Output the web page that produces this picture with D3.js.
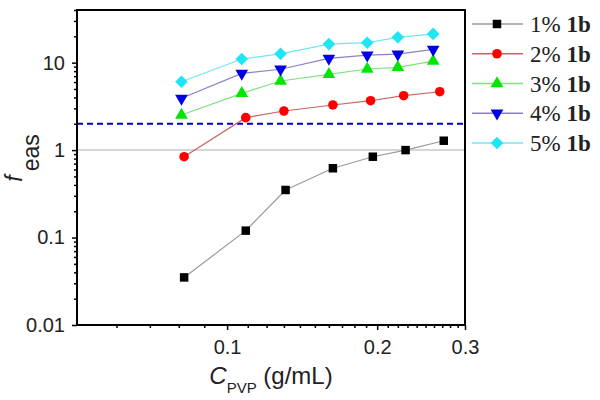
<!DOCTYPE html>
<html>
<head>
<meta charset="utf-8">
<script src="https://cdn.jsdelivr.net/npm/d3@7"></script>
<style>
body { margin: 0; background: #fff; }
svg { display: block; }
.tick text { font-family: "Liberation Sans", Arial, sans-serif; font-size: 20px; fill: #222; }
</style>
</head>
<body>
<div id="chart"></div>
<script>
// series names shown in the legend
const seriesNames = ["1%", "2%", "3%", "4%", "5%"];

// PVP concentration (g/mL) of each point
const xBlack = [0.082, 0.109, 0.131, 0.163, 0.196, 0.228, 0.272];
const xRed   = [0.082, 0.109, 0.130, 0.163, 0.194, 0.226, 0.267];
const xTop   = [0.081, 0.107, 0.128, 0.160, 0.191, 0.220, 0.259];

// f_eas values
const yBlack = [0.035, 0.12, 0.35, 0.62, 0.84, 1.0, 1.28];
const yRed   = [0.84, 2.35, 2.8, 3.28, 3.67, 4.19, 4.65];
const yGreen = [2.52, 4.46, 6.17, 7.36, 8.46, 8.85, 10.4];
const yBlue  = [3.91, 7.55, 8.4, 11.2, 12.2, 12.5, 14.2];
const yCyan  = [6.05, 11.0, 12.6, 16.3, 16.9, 19.5, 21.3];

// tick labels
const xTicks = [0.1, 0.2, 0.3];
const yTicks = [0.01, 0.1, 1, 10];

// reference lines
const refSolid = 1;
const refDashed = 2;

const series = [
  { name: seriesNames[0], x: xBlack, y: yBlack, marker: "#000000", line: "#9a9a9a", shape: "square" },
  { name: seriesNames[1], x: xRed,   y: yRed,   marker: "#ff0000", line: "#c86464", shape: "circle" },
  { name: seriesNames[2], x: xTop,   y: yGreen, marker: "#00e600", line: "#80e080", shape: "up" },
  { name: seriesNames[3], x: xTop,   y: yBlue,  marker: "#0000e6", line: "#8c80c8", shape: "down" },
  { name: seriesNames[4], x: xTop,   y: yCyan,  marker: "#1ee6f5", line: "#70e6f0", shape: "diamond" }
];

const W = 600, H = 400;
const plot = { left: 77, top: 10, right: 465, bottom: 325 };

const svg = d3.select("#chart").append("svg")
  .attr("width", W).attr("height", H);

const x = d3.scaleLog().domain([0.05, 0.3]).range([plot.left, plot.right]);
const y = d3.scaleLog().domain([0.01, 40]).range([plot.bottom, plot.top]);

// minor ticks
const xMinor = d3.range(6, 30).map(d => d / 100).filter(d => !xTicks.some(t => Math.abs(t - d) < 1e-9));
const yMinor = [];
[0.01, 0.1, 1, 10].forEach(dec => {
  for (let k = 2; k <= 9; k++) {
    const v = dec * k;
    if (v <= 40) yMinor.push(v);
  }
});

// reference lines
svg.append("line")
  .attr("x1", plot.left).attr("x2", plot.right)
  .attr("y1", y(refSolid)).attr("y2", y(refSolid))
  .attr("stroke", "#c8c8c8").attr("stroke-width", 1.5);

svg.append("line")
  .attr("x1", plot.left).attr("x2", plot.right)
  .attr("y1", y(refDashed)).attr("y2", y(refDashed))
  .attr("stroke", "#0000cc").attr("stroke-width", 2)
  .attr("stroke-dasharray", "6,4");

// symbol helper
function symbolPath(shape) {
  if (shape === "square") return d3.symbol(d3.symbolSquare, 72)();
  if (shape === "circle") return d3.symbol(d3.symbolCircle, 72)();
  if (shape === "up" || shape === "down") return d3.symbol(d3.symbolTriangle, 70)();
  return d3.symbol(d3.symbolSquare, 80)();
}
function symbolRotate(shape) {
  if (shape === "down") return " rotate(180)";
  if (shape === "diamond") return " rotate(45)";
  return "";
}

// series lines and markers
const line = d3.line().x(d => x(d[0])).y(d => y(d[1]));

series.forEach(s => {
  const pts = s.x.map((v, i) => [v, s.y[i]]);
  svg.append("path")
    .attr("d", line(pts))
    .attr("fill", "none")
    .attr("stroke", s.line)
    .attr("stroke-width", 1.2);

  svg.append("g").selectAll("path")
    .data(pts)
    .enter().append("path")
    .attr("d", symbolPath(s.shape))
    .attr("transform", d => `translate(${x(d[0])},${y(d[1])})` + symbolRotate(s.shape))
    .attr("fill", s.marker);
});

// axes
svg.append("g")
  .attr("transform", `translate(0,${plot.bottom})`)
  .call(d3.axisBottom(x).tickValues(xMinor).tickSize(3).tickFormat(""))
  .call(g => g.select(".domain").remove())
  .call(g => g.selectAll("line").attr("stroke", "#000").attr("stroke-width", 1.5));

svg.append("g")
  .attr("transform", `translate(0,${plot.bottom})`)
  .call(d3.axisBottom(x).tickValues(xTicks).tickSize(5).tickPadding(10).tickFormat(d3.format("")))
  .call(g => g.select(".domain").remove())
  .call(g => g.selectAll("line").attr("stroke", "#000").attr("stroke-width", 1.5));

svg.append("g")
  .attr("transform", `translate(${plot.left},0)`)
  .call(d3.axisLeft(y).tickValues(yMinor).tickSize(3).tickFormat(""))
  .call(g => g.select(".domain").remove())
  .call(g => g.selectAll("line").attr("stroke", "#000").attr("stroke-width", 1.5));

svg.append("g")
  .attr("transform", `translate(${plot.left},0)`)
  .call(d3.axisLeft(y).tickValues(yTicks).tickSize(5).tickPadding(7).tickFormat(d3.format("")))
  .call(g => g.select(".domain").remove())
  .call(g => g.selectAll("line").attr("stroke", "#000").attr("stroke-width", 1.5));

// frame
svg.append("rect")
  .attr("x", plot.left).attr("y", plot.top)
  .attr("width", plot.right - plot.left).attr("height", plot.bottom - plot.top)
  .attr("fill", "none").attr("stroke", "#000").attr("stroke-width", 2);

// x title
const xt = svg.append("text")
  .attr("x", 271).attr("y", 384)
  .attr("text-anchor", "middle")
  .style("font-family", "Liberation Sans, Arial, sans-serif")
  .style("font-size", "24px").attr("fill", "#222");
xt.append("tspan").style("font-style", "italic").text("C");
xt.append("tspan").attr("dy", 9).style("font-size", "15px").text("PVP");
xt.append("tspan").attr("dy", -9).text(" (g/mL)");

// y title
const yt = svg.append("text")
  .attr("transform", "translate(22,158) rotate(-90)")
  .attr("text-anchor", "middle")
  .style("font-family", "Liberation Sans, Arial, sans-serif")
  .style("font-size", "23px").attr("fill", "#222");
yt.append("tspan").style("font-style", "italic").text("f");
yt.append("tspan").attr("dx", 4).attr("dy", 17).text("eas");

// legend
const ly = d3.scalePoint().domain(seriesNames).range([24, 143]);
const legend = svg.append("g");

series.forEach(s => {
  const g = legend.append("g").attr("transform", `translate(0,${ly(s.name)})`);
  g.append("line")
    .attr("x1", 472).attr("x2", 523)
    .attr("stroke", s.line).attr("stroke-width", 1.5);
  g.append("path")
    .attr("d", symbolPath(s.shape))
    .attr("transform", "translate(497,0)" + symbolRotate(s.shape))
    .attr("fill", s.marker);
  const t = g.append("text")
    .attr("x", 530).attr("dy", "0.35em")
    .style("font-family", "Liberation Serif, Times New Roman, serif")
    .style("font-size", "23px").attr("fill", "#222");
  t.append("tspan").text(s.name + " ");
  t.append("tspan").style("font-weight", "bold").text("1b");
});
</script>
</body>
</html>
